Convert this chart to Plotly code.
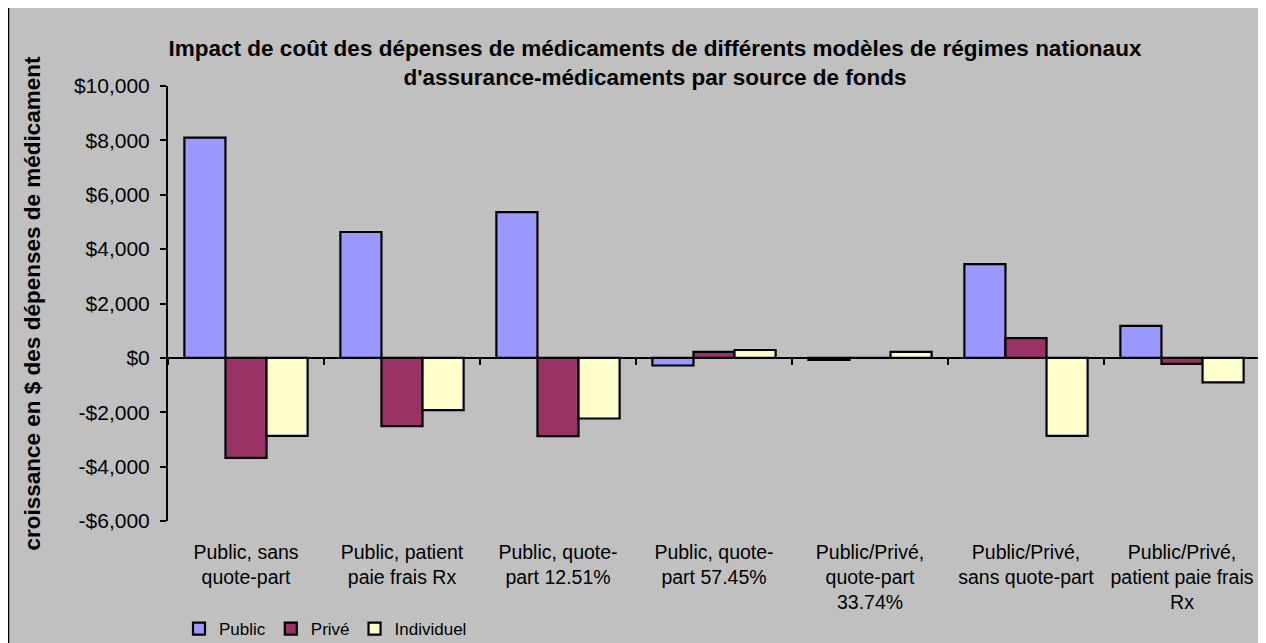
import plotly.graph_objects as go

categories = [
    "Public, sans<br>quote-part",
    "Public, patient<br>paie frais Rx",
    "Public, quote-<br>part 12.51%",
    "Public, quote-<br>part 57.45%",
    "Public/Privé,<br>quote-part<br>33.74%",
    "Public/Privé,<br>sans quote-part",
    "Public/Privé,<br>patient paie frais<br>Rx",
]
public = [8100, 4630, 5360, -280, -70, 3450, 1180]
prive = [-3680, -2510, -2880, 220, 0, 725, -220]
individuel = [-2870, -1920, -2230, 290, 220, -2870, -900]
series_names = ["Public", "Privé", "Individuel"]
series_colors = ["#9999FF", "#993366", "#FFFFCC"]
y_ticks = [-6000, -4000, -2000, 0, 2000, 4000, 6000, 8000, 10000]
y_ticktext = ["-$6,000", "-$4,000", "-$2,000", "$0", "$2,000", "$4,000", "$6,000", "$8,000", "$10,000"]

# page has an 8px body margin; figure coordinates = page coordinates - 8
W, H = 1258, 635
L, R, T, B = 160, 6, 78, 122
pw, ph = W - L - R, H - T - B

def px_x(px):
    return (px - L) / pw

def px_y(py):
    return (H - B - py) / ph

font_family = "Liberation Sans, Arial, sans-serif"

fig = go.Figure()
for name, vals, col in zip(series_names, [public, prive, individuel], series_colors):
    fig.add_trace(go.Bar(
        x=categories, y=vals, name=name,
        marker=dict(color=col, line=dict(color="black", width=2.2)),
    ))

# invisible helper trace for the category axis drawn through zero
fig.add_trace(go.Scatter(
    x=categories, y=[None] * len(categories), xaxis="x2",
    showlegend=False, hoverinfo="skip", mode="markers",
))

ymin, ymax = -6000, 10000
zero_pos = (0 - ymin) / (ymax - ymin)

fig.update_layout(
    width=W, height=H,
    margin=dict(l=L, r=R, t=T, b=B, autoexpand=False),
    paper_bgcolor="white",
    plot_bgcolor="rgba(0,0,0,0)",
    barmode="group",
    bargap=0.21,
    bargroupgap=0,
    font=dict(family=font_family, color="black"),
    title=dict(
        text="Impact de coût des dépenses de médicaments de différents modèles de régimes nationaux<br>d'assurance-médicaments par source de fonds",
        font=dict(family=font_family, size=22.5, color="black", weight="bold"),
        x=px_x(647), xanchor="center", xref="paper",
        y=1 - 47.5 / H, yanchor="middle", yref="container",
    ),
    xaxis=dict(
        type="category", categoryorder="array", categoryarray=categories,
        range=[-0.5, len(categories) - 0.5],
        showline=False, ticks="", showgrid=False,
        tickfont=dict(family=font_family, size=19.5, color="black"),
        ticklabelstandoff=17,
    ),
    xaxis2=dict(
        type="category", categoryorder="array", categoryarray=categories,
        range=[-0.5, len(categories) - 0.5],
        overlaying="x", anchor="free", position=zero_pos,
        showline=True, linecolor="black", linewidth=2,
        ticks="outside", ticklen=6, tickwidth=2, tickcolor="black",
        tickson="boundaries", showticklabels=False, showgrid=False,
    ),
    yaxis=dict(
        range=[ymin, ymax],
        tickvals=y_ticks, ticktext=y_ticktext,
        showline=True, linecolor="black", linewidth=2,
        ticks="outside", ticklen=6, tickwidth=2, tickcolor="black",
        ticklabelstandoff=6,
        showgrid=False, zeroline=False,
        tickfont=dict(family=font_family, size=21, color="black"),
        title=dict(
            text="croissance en $ des dépenses de médicament",
            font=dict(family=font_family, size=22.5, color="black", weight="bold"),
            standoff=27,
        ),
    ),
    legend=dict(
        orientation="h",
        x=px_x(171), xanchor="left",
        y=px_y(621), yanchor="middle",
        font=dict(family=font_family, size=17, color="black"),
        bgcolor="rgba(0,0,0,0)",
        itemwidth=30,
        tracegroupgap=0,
    ),
    shapes=[
        dict(type="rect", xref="paper", yref="paper", layer="below",
             x0=px_x(-1), x1=px_x(1252), y0=px_y(H + 5), y1=px_y(0),
             fillcolor="#C0C0C0", line=dict(width=0)),
        dict(type="line", xref="paper", yref="paper",
             x0=px_x(0), x1=px_x(0), y0=px_y(H + 5), y1=px_y(0),
             line=dict(color="black", width=2.5)),
    ],
)

fig.write_html("out.html")
